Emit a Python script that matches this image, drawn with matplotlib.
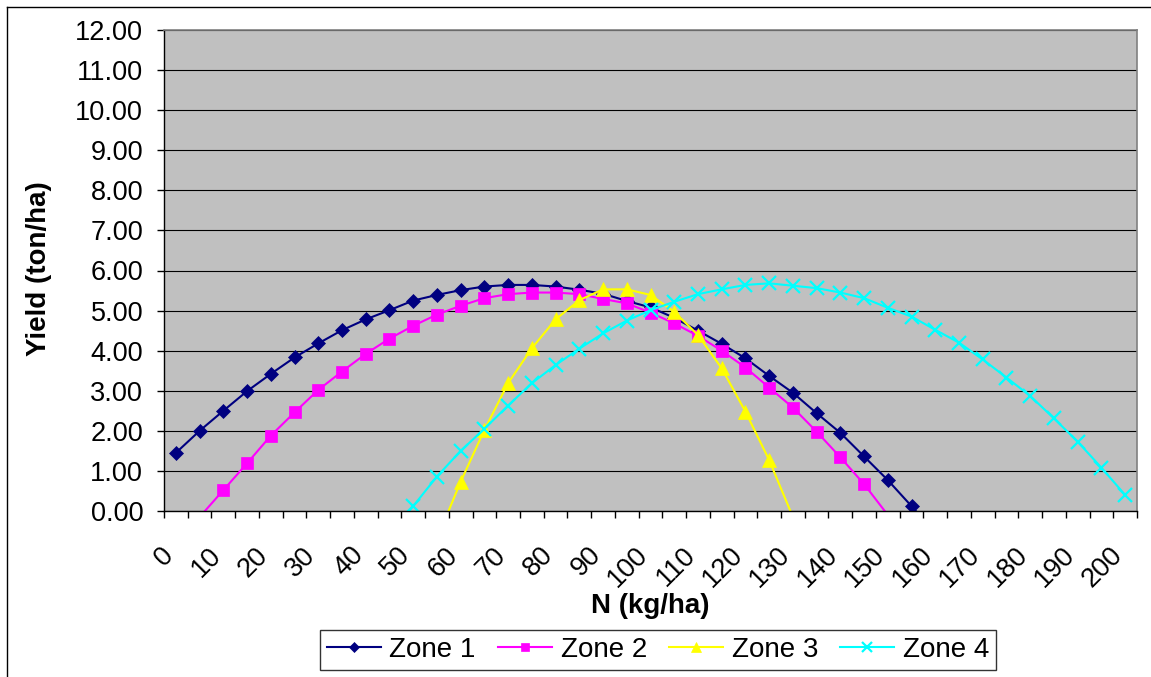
import numpy as np
import matplotlib
matplotlib.use("Agg")
import matplotlib.pyplot as plt
from matplotlib.lines import Line2D
from matplotlib.transforms import ScaledTranslation

# N rates (kg/ha), one category every 5 kg/ha
n_rates = list(range(0, 205, 5))
tick_labels = [str(n) for n in n_rates[::2]]

# yield (ton/ha), None where a zone has no value
zone1 = [1.45, 2.00, 2.50, 2.99, 3.42, 3.83, 4.18, 4.51, 4.78, 5.01,
         5.25, 5.39, 5.51, 5.60, 5.64, 5.64, 5.60, 5.52, 5.42, 5.24,
         5.08, 4.82, 4.50, 4.17, 3.81, 3.37, 2.95, 2.44, 1.95, 1.36,
         0.77, 0.12, -0.55, None, None, None, None, None, None, None, None]
zone2 = [None, -0.15, 0.52, 1.19, 1.88, 2.46, 3.02, 3.48, 3.92, 4.30,
         4.62, 4.90, 5.12, 5.31, 5.41, 5.45, 5.45, 5.41, 5.29, 5.18,
         4.95, 4.68, 4.37, 4.00, 3.58, 3.08, 2.58, 1.98, 1.34, 0.67,
         -0.10, None, None, None, None, None, None, None, None, None, None]
zone3 = [None, None, None, None, None, None, None, None, None, None,
         None, -0.70, 0.73, 2.02, 3.19, 4.06, 4.78, 5.26, 5.53, 5.53,
         5.39, 4.97, 4.39, 3.56, 2.48, 1.27, -0.15, None, None, None,
         None, None, None, None, None, None, None, None, None, None, None]
zone4 = [None, None, None, None, None, None, None, None, None, -0.60,
         0.12, 0.86, 1.50, 2.05, 2.63, 3.19, 3.64, 4.05, 4.43, 4.75,
         5.01, 5.22, 5.41, 5.53, 5.64, 5.68, 5.62, 5.56, 5.45, 5.31,
         5.07, 4.85, 4.52, 4.20, 3.78, 3.33, 2.87, 2.31, 1.73, 1.08, 0.40]

zone_names = ["Zone 1", "Zone 2", "Zone 3", "Zone 4"]
zone_colors = ["#000080", "#FF00FF", "#FFFF00", "#00FFFF"]
zone_markers = ["D", "s", "^", "x"]
zone_msize = [7.0, 8.5, 9.5, 10.0]

plt.rcParams["font.family"] = ["Liberation Sans", "DejaVu Sans"]

W, H = 1151, 677
fig = plt.figure(figsize=(W / 100, H / 100), dpi=100)
fig.patch.set_facecolor("white")

# chart border (only top and left edges fall inside the picture)
fig.add_artist(Line2D([7 / W, 7 / W], [0, 1 - 7 / H], color="black", lw=1.0))
fig.add_artist(Line2D([7 / W, 1], [1 - 7 / H, 1 - 7 / H], color="black", lw=1.0))

ax = fig.add_axes([164 / W, 166 / H, 973 / W, 481 / H])
ax.set_facecolor("#C0C0C0")

x = np.arange(len(n_rates))
for vals, name, col, mk, ms in zip([zone1, zone2, zone3, zone4], zone_names,
                                   zone_colors, zone_markers, zone_msize):
    y = np.array(vals, dtype=float)
    shown = list(np.nan_to_num(y, nan=-1) >= 0)
    ax.plot(x, y, color=col, lw=1.5, marker=mk, markersize=ms,
            markeredgewidth=1.6 if mk == "x" else 0.5, markevery=shown,
            label=name)

ax.set_xlim(-0.5, len(n_rates) - 0.5)
ax.set_ylim(0, 12)

ax.set_yticks(np.arange(0, 13, 1))
ax.set_yticklabels([f"{v:.2f}" for v in range(0, 13)])
ax.yaxis.grid(True, color="black", lw=0.8)
ax.set_axisbelow(True)

ax.set_xticks(x[::2])
ax.set_xticklabels(tick_labels)
ax.set_xticks(np.arange(-0.5, len(n_rates), 1), minor=True)
ax.tick_params(axis="x", which="major", length=0, pad=29, labelsize=19.5)
ax.tick_params(axis="x", which="minor", length=5, width=1, direction="out")
ax.tick_params(axis="y", length=5, width=1, direction="out", pad=10, labelsize=19.5)

off = ScaledTranslation(-6.5 / 100, 0, fig.dpi_scale_trans)
for lab in ax.get_xticklabels():
    lab.set_rotation(45)
    lab.set_rotation_mode("anchor")
    lab.set_ha("right")
    lab.set_va("center")
    lab.set_transform(lab.get_transform() + off)

for side in ["left", "bottom"]:
    ax.spines[side].set_color("black")
    ax.spines[side].set_linewidth(1.0)
for side in ["top", "right"]:
    ax.spines[side].set_color("#808080")
    ax.spines[side].set_linewidth(1.2)

fig.text(39 / W, 1 - 269 / H, "Yield (ton/ha)", rotation=90, ha="center",
         va="center", fontsize=20, fontweight="bold")
fig.text(650.5 / W, 1 - 613 / H, "N (kg/ha)", ha="center", va="baseline",
         fontsize=20, fontweight="bold")

leg = fig.legend(loc="center", bbox_to_anchor=(658 / W, 1 - 650 / H), ncol=4,
                 fontsize=20, frameon=True, fancybox=False, handlelength=1.95,
                 handletextpad=0.3, columnspacing=0.8, borderpad=0.25,
                 markerscale=0.7, borderaxespad=0)
leg.get_frame().set_edgecolor("black")
leg.get_frame().set_linewidth(1.0)

fig.savefig("out.png", dpi=100)
